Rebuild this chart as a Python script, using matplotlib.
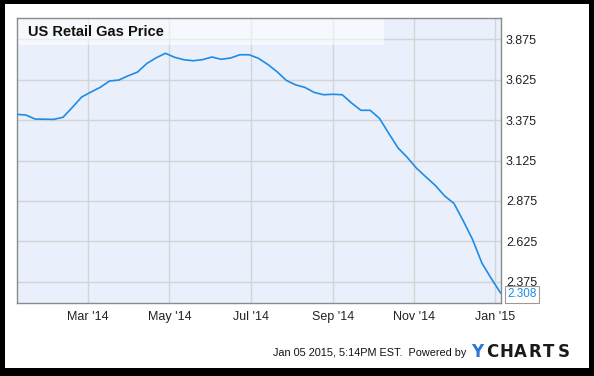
import numpy as np
import pandas as pd
import matplotlib
matplotlib.use("Agg")
import matplotlib.pyplot as plt
import matplotlib.dates as mdates
from matplotlib.patches import Rectangle

# weekly US retail gas price (USD/gal), Jan 06 2014 -> Jan 05 2015
dates = pd.date_range("2014-01-06", periods=53, freq="7D")
prices = [
    3.410, 3.406, 3.381, 3.380, 3.379, 3.392, 3.453, 3.517, 3.548, 3.577,
    3.616, 3.622, 3.648, 3.671, 3.724, 3.759, 3.787, 3.762, 3.747, 3.741,
    3.748, 3.764, 3.750, 3.758, 3.778, 3.778, 3.756, 3.718, 3.673, 3.619,
    3.592, 3.576, 3.545, 3.531, 3.534, 3.531, 3.480, 3.435, 3.435, 3.385,
    3.292, 3.202, 3.143, 3.076, 3.023, 2.971, 2.906, 2.860, 2.752, 2.637,
    2.492, 2.397, 2.308,
]
y_ticks = [2.375, 2.625, 2.875, 3.125, 3.375, 3.625, 3.875]
x_ticks = ["2014-03-01", "2014-05-01", "2014-07-01", "2014-09-01", "2014-11-01", "2015-01-01"]

W, H = 594, 376
plt.rcParams["font.family"] = ["Liberation Sans", "DejaVu Sans"]

fig = plt.figure(figsize=(W / 100, H / 100), dpi=100, facecolor="black")

# white card on black background
card = Rectangle((5 / W, 1 - 368 / H), 584 / W, 364 / H, transform=fig.transFigure,
                 facecolor="white", edgecolor="none", zorder=-10)
fig.patches.append(card)

ax = fig.add_axes([16.5 / W, 1 - 303 / H, 484 / W, 285 / H])
ax.set_zorder(5)
ax.set_facecolor("#E9F0FB")

ax.plot(dates, prices, color="#1E8BE6", lw=1.2, zorder=3)

ax.set_xlim(dates[0], dates[-1])
ax.set_ylim(2.245, 4.005)
ax.set_yticks(y_ticks)
ax.set_yticklabels([f"{v:.3f}" for v in y_ticks])
ax.set_xticks(pd.to_datetime(x_ticks))
ax.xaxis.set_major_formatter(mdates.DateFormatter("%b '%y"))

ax.yaxis.tick_right()
ax.tick_params(axis="both", length=0, labelsize=9, labelcolor="#222222")
ax.tick_params(axis="y", pad=4)
ax.tick_params(axis="x", pad=6)
ax.grid(True, color="#D4D4D4", lw=1)
ax.set_axisbelow(True)
for s in ax.spines.values():
    s.set_color("#8A8A8A")
    s.set_linewidth(1)

# translucent title band
ax.add_patch(Rectangle((0, 1 - 27 / 285), 367 / 484, 27 / 285, transform=ax.transAxes,
                       facecolor="white", alpha=0.55, edgecolor="none", zorder=2))
ax.text(11 / 484, 1 - 14 / 285, "US Retail Gas Price", transform=ax.transAxes,
        fontsize=10.5, fontweight="bold", color="#111111", va="center", ha="left", zorder=4)

# last value label
ax.annotate(f"{prices[-1]:.3f}", xy=(dates[-1], prices[-1]), xytext=(5, -1),
            textcoords="offset points", fontsize=8.5, color="#1E8BE6",
            va="center", ha="left", annotation_clip=False, zorder=6,
            bbox=dict(boxstyle="square,pad=0.2", facecolor="white", edgecolor="#9A9A9A", lw=0.8))

# footer
fig.text(466 / W, 1 - 353 / H, "Jan 05 2015, 5:14PM EST.  Powered by", ha="right", va="center",
         fontsize=7.8, color="#111111")
logo = "YCHARTS"
for i, ch in enumerate(logo):
    fig.text((477.5 + 14.3 * i) / W, 1 - 352 / H, ch, ha="center", va="center", fontsize=12,
             fontweight="bold", family="DejaVu Sans",
             color="#2A78D6" if ch == "Y" else "#1A1A1A")

fig.savefig("out.png", dpi=100, facecolor=fig.get_facecolor())
